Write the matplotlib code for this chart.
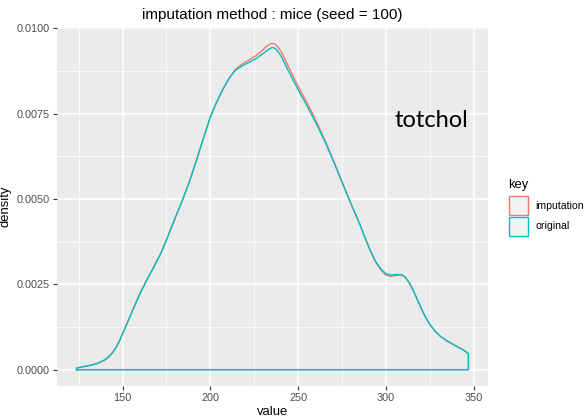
import matplotlib.pyplot as plt
from matplotlib.patches import Rectangle

# density estimates of totchol, original vs imputed (mice, seed = 100)
valores = [123.8, 128, 132, 136, 140, 142, 144, 146, 148, 150, 152, 154, 156,
           160, 164, 168, 172, 176, 180, 184, 188, 192, 196, 200, 203, 206, 210,
           214, 218, 222, 226, 230, 232, 234, 235.5, 237, 239, 241, 244, 247,
           250, 254, 258, 262, 266, 270, 275, 280, 285, 288, 291, 294, 297, 300,
           303, 306, 309, 311, 313, 315, 317, 319, 321, 323, 325, 328, 331, 334,
           337, 340, 344, 347]

dens_original = [0.00005, 0.00009, 0.00013, 0.00019, 0.00029, 0.00037, 0.00048,
                 0.00063, 0.00082, 0.00105, 0.00129, 0.00153, 0.00177, 0.00224,
                 0.00265, 0.00303, 0.00343, 0.00393, 0.00445, 0.00495, 0.00550,
                 0.00612, 0.00677, 0.00740, 0.00777, 0.00810, 0.00848, 0.00876,
                 0.00890, 0.00900, 0.00911, 0.00926, 0.00934, 0.00941, 0.00944,
                 0.00941, 0.00929, 0.00912, 0.00880, 0.00850, 0.00820, 0.00783,
                 0.00744, 0.00703, 0.00660, 0.00612, 0.00549, 0.00487, 0.00428,
                 0.00388, 0.00350, 0.00318, 0.00296, 0.00281, 0.00277, 0.00279,
                 0.00278, 0.00271, 0.00257, 0.00238, 0.00216, 0.00193, 0.00170,
                 0.00150, 0.00133, 0.00113, 0.00098, 0.00087, 0.00078, 0.00069,
                 0.00058, 0.00047]

dens_imputacion = [0.00005, 0.00009, 0.00013, 0.00019, 0.00029, 0.00037, 0.00048,
                   0.00063, 0.00082, 0.00105, 0.00129, 0.00153, 0.00177, 0.00224,
                   0.00265, 0.00303, 0.00343, 0.00393, 0.00445, 0.00495, 0.00550,
                   0.00612, 0.00677, 0.00740, 0.00777, 0.00810, 0.00848, 0.00878,
                   0.00895, 0.00907, 0.00920, 0.00937, 0.00947, 0.00954, 0.00956,
                   0.00953, 0.00942, 0.00926, 0.00893, 0.00862, 0.00830, 0.00792,
                   0.00752, 0.00709, 0.00664, 0.00614, 0.00550, 0.00487, 0.00428,
                   0.00388, 0.00350, 0.00317, 0.00293, 0.00277, 0.00273, 0.00276,
                   0.00278, 0.00271, 0.00257, 0.00238, 0.00216, 0.00193, 0.00170,
                   0.00150, 0.00133, 0.00113, 0.00098, 0.00087, 0.00078, 0.00069,
                   0.00058, 0.00047]

claves = ["imputation", "original"]
colores = ["#F8766D", "#00BFC4"]

x_ticks = [150, 200, 250, 300, 350]
y_ticks = [0.0, 0.0025, 0.005, 0.0075, 0.01]
y_labels = ["0.0000", "0.0025", "0.0050", "0.0075", "0.0100"]

plt.rcParams["font.family"] = ["Liberation Sans", "DejaVu Sans"]

W, H = 584, 420
fig = plt.figure(figsize=(W / 100, H / 100), dpi=100)

# panel en pixeles: izquierda 57, derecha 488, arriba 27, abajo 386
ax = fig.add_axes([57 / W, (H - 386) / H, (488 - 57) / W, (386 - 27) / H])
ax.set_facecolor("#EBEBEB")
for s in ax.spines.values():
    s.set_visible(False)

# expansion 5% estilo ggplot
x0, x1 = min(valores), max(valores)
ymax = max(max(dens_original), max(dens_imputacion))
ax.set_xlim(x0 - 0.05 * (x1 - x0), x1 + 0.05 * (x1 - x0))
ax.set_ylim(-0.05 * ymax, ymax * 1.05)

# rejilla mayor y menor
ax.set_xticks(x_ticks)
ax.set_xticks([125, 175, 225, 275, 325], minor=True)
ax.set_yticks(y_ticks)
ax.set_yticks([0.00125, 0.00375, 0.00625, 0.00875], minor=True)
ax.set_yticklabels(y_labels)
ax.grid(which="major", color="white", linewidth=1.1)
ax.grid(which="minor", color="white", linewidth=0.55)
ax.set_axisbelow(True)
ax.tick_params(which="major", length=3, width=0.8, color="#333333",
               labelsize=7.8, labelcolor="#4D4D4D", pad=2)
ax.tick_params(which="minor", length=0)

# curvas de densidad cerradas con la linea base
for dens, col in zip([dens_imputacion, dens_original], colores):
    xs = [valores[0]] + valores + [valores[-1], valores[0]]
    ys = [0] + dens + [0, 0]
    ax.plot(xs, ys, color=col, linewidth=1.0, solid_joinstyle="round")

ax.text(326, 0.0073, "totchol", family="Lato", fontsize=17, ha="center",
        va="center", color="black")

ax.set_title("imputation method : mice (seed = 100)", fontsize=11, pad=6)
ax.set_xlabel("value", fontsize=9.4, labelpad=2)
ax.set_ylabel("density", fontsize=9.4, labelpad=4)

# leyenda manual
def px(x, y):
    return x / W, 1 - y / H

fig.text(*px(508, 185), "key", fontsize=9.4, va="center", ha="left")
for i, (nombre, col) in enumerate(zip(claves, colores)):
    top = 196 + i * 20.5
    fx, fy = px(508.5, top + 19)
    fig.add_artist(Rectangle((fx, fy), 19 / W, 19 / H, transform=fig.transFigure,
                             facecolor="#F2F2F2", edgecolor=col, linewidth=1.0))
    fig.text(*px(535, top + 9.5), nombre, fontsize=7.6, va="center", ha="left",
             color="black")

fig.savefig("out.png", dpi=100)
